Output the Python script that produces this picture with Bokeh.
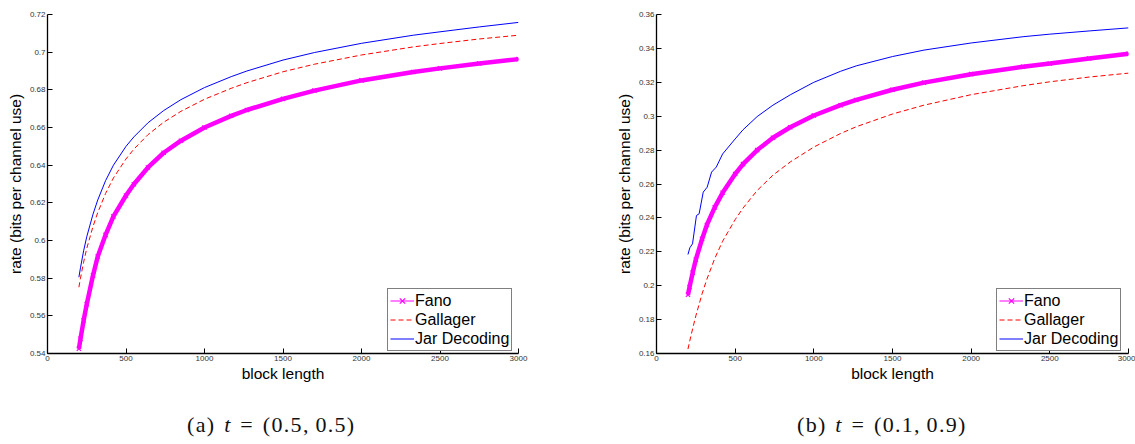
from bokeh.plotting import figure
from bokeh.models import (Range1d, FixedTicker, CustomJSTickFormatter, Legend,
                          LegendItem, Div)
from bokeh.layouts import row, column
from bokeh.embed import file_html
from bokeh.resources import INLINE

# ---------------- data ----------------
block_len = [200, 210, 230, 250, 290, 320, 370, 420, 500, 550, 640, 740, 850,
             1000, 1170, 1270, 1500, 1700, 2000, 2330, 2500, 2750, 3000]

# panel (a): t = (0.5, 0.5)
fano_a = [0.5425, 0.5478, 0.5575, 0.5662, 0.5815, 0.5915, 0.6030, 0.6128,
          0.6239, 0.6299, 0.6388, 0.6466, 0.6530, 0.6600, 0.6662, 0.6693,
          0.6752, 0.6796, 0.6850, 0.6895, 0.6914, 0.6940, 0.6963]
gallager_a = [0.5752, 0.5800, 0.5885, 0.5958, 0.6075, 0.6148, 0.6250, 0.6332,
              0.6433, 0.6485, 0.6562, 0.6628, 0.6686, 0.6750, 0.6808, 0.6838,
              0.6896, 0.6936, 0.6985, 0.7028, 0.7046, 0.7070, 0.7090]
jar_a = [0.5805, 0.5855, 0.5945, 0.6020, 0.6140, 0.6215, 0.6318, 0.6400,
         0.6500, 0.6550, 0.6625, 0.6690, 0.6748, 0.6812, 0.6870, 0.6900,
         0.6958, 0.6998, 0.7047, 0.7090, 0.7108, 0.7134, 0.7158]

# panel (b): t = (0.1, 0.9)
fano_b = [0.1947, 0.1992, 0.2077, 0.2154, 0.2276, 0.2358, 0.2462, 0.2548,
          0.2659, 0.2717, 0.2800, 0.2873, 0.2935, 0.3004, 0.3065, 0.3096,
          0.3156, 0.3198, 0.3248, 0.3292, 0.3311, 0.3340, 0.3368]
gallager_b = [0.1626, 0.1668, 0.1748, 0.1822, 0.1953, 0.2038, 0.2160, 0.2262,
              0.2390, 0.2458, 0.2562, 0.2652, 0.2730, 0.2818, 0.2898, 0.2938,
              0.3013, 0.3065, 0.3127, 0.3180, 0.3203, 0.3231, 0.3254]
jar_b_len = [200, 212, 229, 254, 271, 297, 322, 350, 380, 420, 500, 550, 640,
             740, 850, 1000, 1170, 1270, 1500, 1700, 2000, 2330, 2500, 2750, 3000]
jar_b = [0.2184, 0.2224, 0.2247, 0.2414, 0.2424, 0.2552, 0.2581, 0.2670,
         0.2700, 0.2777, 0.2866, 0.2920, 0.2998, 0.3065, 0.3126, 0.3200,
         0.3265, 0.3297, 0.3352, 0.3390, 0.3432, 0.3469, 0.3484, 0.3503, 0.3521]

x_ticks = [0, 500, 1000, 1500, 2000, 2500, 3000]
y_ticks_a = [0.54, 0.56, 0.58, 0.60, 0.62, 0.64, 0.66, 0.68, 0.70, 0.72]
y_ticks_b = [0.16, 0.18, 0.20, 0.22, 0.24, 0.26, 0.28, 0.30, 0.32, 0.34, 0.36]

series_labels = ["Fano", "Gallager", "Jar Decoding"]
caption_a = "(a) <i>t</i> = (0.5,&#8201;0.5)"
caption_b = "(b) <i>t</i> = (0.1,&#8201;0.9)"

FONT = "Liberation Sans"
MAGENTA = "#ff00ff"
RED = "#ff0000"
BLUE = "#0000ff"

fmt_code = "return String(Math.round(tick*100)/100);"


def make_panel(width, left, right, y_lo, y_hi, y_ticks,
               fano, gallager, jar_len, jar):
    p = figure(width=width, height=395, output_backend="svg",
               toolbar_location=None, x_range=Range1d(0, 3000),
               y_range=Range1d(y_lo, y_hi),
               min_border_left=left, min_border_right=right,
               min_border_top=14, min_border_bottom=42)
    p.outline_line_color = None
    p.grid.visible = False
    p.background_fill_color = "white"
    p.border_fill_color = "white"

    p.xaxis.ticker = FixedTicker(ticks=x_ticks)
    p.yaxis.ticker = FixedTicker(ticks=y_ticks)
    p.xaxis.formatter = CustomJSTickFormatter(code=fmt_code)
    p.yaxis.formatter = CustomJSTickFormatter(code=fmt_code)
    p.xaxis.axis_label = "block length"
    p.yaxis.axis_label = "rate (bits per channel use)"
    for ax in (p.xaxis[0], p.yaxis[0]):
        ax.axis_line_color = "black"
        ax.axis_line_width = 1.3
        ax.major_tick_line_color = "black"
        ax.major_tick_line_width = 1
        ax.major_tick_in = 5
        ax.major_tick_out = 0
        ax.minor_tick_in = 0
        ax.minor_tick_out = 0
        ax.major_label_text_font = FONT
        ax.major_label_text_font_size = "8px"
        ax.major_label_text_color = "#333333"
        ax.major_label_standoff = 2
        ax.axis_label_text_font = FONT
        ax.axis_label_text_font_size = "15.5px"
        ax.axis_label_text_font_style = "normal"
        ax.axis_label_text_color = "black"
        ax.axis_label_standoff = 3
    p.xaxis.axis_label_standoff = 1

    # Fano: dense 'x' markers look like a thick band
    p.line(block_len, fano, line_color=MAGENTA, line_width=4.5)
    fano_line = p.line(block_len, fano, line_color=MAGENTA, line_width=1)
    fano_pts = p.scatter(block_len, fano, marker="x", size=6,
                         line_color=MAGENTA, line_width=1.2)
    gal = p.line(block_len, gallager, line_color=RED, line_width=1,
                 line_dash="5 3")
    jr = p.line(jar_len, jar, line_color=BLUE, line_width=1)

    legend = Legend(items=[
        LegendItem(label=series_labels[0], renderers=[fano_line, fano_pts]),
        LegendItem(label=series_labels[1], renderers=[gal]),
        LegendItem(label=series_labels[2], renderers=[jr]),
    ], location=(340, 2))
    legend.border_line_color = "black"
    legend.border_line_width = 1.5
    legend.background_fill_color = "white"
    legend.background_fill_alpha = 1
    legend.padding = 2
    legend.spacing = 0
    legend.margin = 0
    legend.glyph_width = 24
    legend.glyph_height = 19
    legend.label_height = 19
    legend.label_standoff = 1
    legend.label_text_font = FONT
    legend.label_text_font_size = "16px"
    legend.label_text_color = "black"
    p.add_layout(legend, "center")
    return p


# page has no body margin (Bokeh template), so offsets are built into borders
p_a = make_panel(570, 47, 52, 0.54, 0.72, y_ticks_a, fano_a, gallager_a,
                 block_len, jar_a)
p_b = make_panel(565, 86, 7, 0.16, 0.36, y_ticks_b, fano_b, gallager_b,
                 jar_b_len, jar_b)


def caption(html, width, pad_left):
    style = ("font-family:'Liberation Serif';font-size:22px;line-height:24px;"
             "letter-spacing:1.3px;word-spacing:2px;color:#111;white-space:nowrap;"
             f"padding-left:{pad_left}px;padding-top:18px;")
    return Div(text=f'<div style="{style}">{html}</div>', width=width,
               height=48, margin=0)


layout = row(column(p_a, caption(caption_a, 570, 187)),
             column(p_b, caption(caption_b, 565, 227)))

open("out.html", "w").write(file_html(layout, INLINE))
